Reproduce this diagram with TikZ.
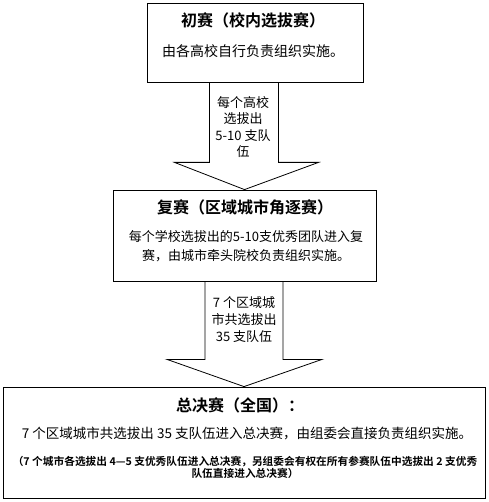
\documentclass[tikz,border=0pt]{standalone}
\usepackage{fontspec}
\setmainfont{Noto Sans CJK SC}[BoldFont={Noto Sans CJK SC Bold}]
\usetikzlibrary{calc}

\begin{document}
\begin{tikzpicture}[x=1pt, y=-1pt, line width=0.8pt]
        \useasboundingbox (0,0) rectangle (488,502);
        % First round
        \node[draw, rectangle, minimum width=216pt, minimum height=79pt] (round1) at (255,42.5) {};
        \node[font=\fontsize{16}{18}\selectfont\bfseries] (title1) at (253,20) {初赛（校内选拔赛）};
        \node[font=\fontsize{14}{16}\selectfont] (text1) at (253,51) {由各高校自行负责组织实施。};

        % Second round
        \node[draw, rectangle, minimum width=263pt, minimum height=91pt] (round2) at (244.5,235.5) {};
        \node[font=\fontsize{16}{18}\selectfont\bfseries] (title2) at (245,207) {复赛（区域城市角逐赛）};
        \node[font=\fontsize{13}{19}\selectfont, align=center] (text2) at (246,246.5)
            {每个学校选拔出的5-10支优秀团队进入复\\赛，由城市牵头院校负责组织实施。};

        % Final round
        \node[draw, rectangle, minimum width=482pt, minimum height=111pt] (round3) at (244,442.5) {};
        \node[font=\fontsize{16}{18}\selectfont\bfseries] (title3) at (240,405) {总决赛（全国）：};
        \node[font=\fontsize{13.5}{16}\selectfont] (text3) at (247,433)
            {7 个区域城市共选拔出 35 支队伍进入总决赛，由组委会直接负责组织实施。};
        \node[font=\fontsize{10.7}{12}\selectfont\bfseries, align=center] (note3) at (245,467.5)
            {（7 个城市各选拔出 4—5 支优秀队伍进入总决赛，另组委会有权在所有参赛队伍中选拔出 2 支优秀\\队伍直接进入总决赛）};

        % Block arrows
        \coordinate (top1) at (round1.south -| round2.north);
        \draw ($(top1)+(-35,0)$) -- ($(top1)+(-35,80)$) -- ($(top1)+(-70,80)$) -- (round2.north)
            -- ($(top1)+(74,80)$) -- ($(top1)+(34,80)$) -- ($(top1)+(34,0)$);
        \node[font=\fontsize{13}{16.5}\selectfont, align=center] (step1) at (243,127)
            {每个高校\\选拔出\\5-10 支队\\伍};

        \coordinate (top2) at (round2.south -| round3.north);
        \draw ($(top2)+(-39,0)$) -- ($(top2)+(-39,78)$) -- ($(top2)+(-77,78)$) -- (round3.north)
            -- ($(top2)+(78,78)$) -- ($(top2)+(39,78)$) -- ($(top2)+(39,0)$);
        \node[font=\fontsize{13}{17}\selectfont, align=center] (step2) at (244,320)
            {7 个区域城\\市共选拔出\\35 支队伍};
\end{tikzpicture}
\end{document}
